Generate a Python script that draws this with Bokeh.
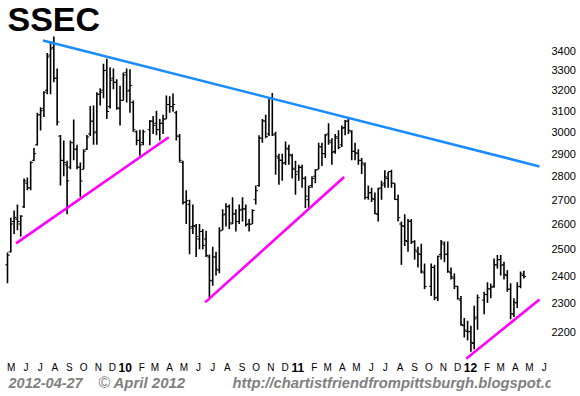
import math
import numpy as np
import pandas as pd
from bokeh.plotting import figure
from bokeh.models import Range1d, FixedTicker, PrintfTickFormatter, ColumnDataSource
from bokeh.core.properties import value
from bokeh.embed import file_html
from bokeh.resources import INLINE

# ---------------- data ----------------
first_week = "2009-04-27"          # Monday of the first weekly bar
n_weeks = 157                        # weekly bars up to 2012-04-23 (None = market closed)

opens = [2440, 2490, 2610, 2620, 2600, 2670, 2770, 2750, 2870, 2940,
         3080, 3110, 3200, 3380, 3420, 3260, 2980, 2870, 2850, 2840,
         2950, 2920, 2840, 2830, 2920, 2990, 3050, 3000, 3180, 3200,
         3300, 3120, 3260, 3240, 3110, 3150, 3290, 3200, 3140, 3000,
         2960, 2950, None, 3010, 3050, 3040, 3010, 3040, 3060, 3130,
         3120, 3090, 2980, 2860, 2690, 2680, 2590, 2590, 2540, 2570,
         2540, 2470, 2380, 2470, 2420, 2575, 2640, 2670, 2600, 2640,
         2610, 2660, 2660, 2600, 2600, 2700, 2760, 2970, 3050, 2990,
         3160, 2990, 2880, 2870, 2860, 2920, 2890, 2830, 2820, 2840,
         2790, 2700, 2760, 2800, 2830, 2930, 2900, 2990, 2950, 2910,
         2970, 2940, 3020, 3050, 3000, 2910, 2900, 2870, 2850, 2710,
         2730, 2700, 2640, 2750, 2770, 2790, 2820, 2770, 2700, 2600,
         2590, 2530, 2610, 2530, 2490, 2480, 2410, None, 2360, 2430,
         2320, 2480, 2520, 2480, 2410, 2390, 2360, 2310, 2220, 2200,
         2200, 2160, 2250, None, 2310, 2330, 2350, 2360, 2440, 2460,
         2440, 2400, 2350, 2260, 2300, 2360, 2400]
highs = [2487, 2625, 2655, 2680, 2635, 2790, 2795, 2866, 2925, 3090,
         3117, 3195, 3390, 3454, 3478, 3310, 2985, 2960, 2868, 2960,
         3058, 2940, 2860, 2920, 2985, 3123, 3125, 3190, 3210, 3335,
         3361, 3316, 3310, 3255, 3223, 3290, 3310, 3306, 3150, 3006,
         3010, 3010, None, 3055, 3075, 3100, 3060, 3080, 3174, 3170,
         3184, 3100, 2990, 2868, 2740, 2700, 2680, 2600, 2600, 2580,
         2573, 2480, 2510, 2490, 2587, 2660, 2685, 2680, 2710, 2660,
         2680, 2710, 2680, 2620, 2660, 2760, 2984, 3060, 3080, 3160,
         3186, 3000, 2900, 2900, 2955, 2940, 2900, 2868, 2850, 2850,
         2800, 2760, 2800, 2830, 2950, 2950, 2990, 3040, 2970, 2990,
         3007, 3030, 3055, 3067, 3007, 2950, 2920, 2880, 2860, 2760,
         2750, 2730, 2750, 2780, 2826, 2820, 2828, 2770, 2721, 2610,
         2639, 2620, 2620, 2535, 2510, 2521, 2445, None, 2445, 2440,
         2475, 2536, 2530, 2530, 2430, 2408, 2362, 2325, 2247, 2237,
         2220, 2290, 2330, None, 2340, 2375, 2370, 2464, 2478, 2478,
         2452, 2420, 2371, 2317, 2375, 2415, 2418]
lows = [2371, 2487, 2560, 2575, 2550, 2665, 2740, 2740, 2866, 2937,
        3006, 3070, 3180, 3180, 3240, 3030, 2760, 2800, 2639, 2830,
        2870, 2830, 2712, 2830, 2916, 2980, 2940, 2940, 3125, 3160,
        3060, 3110, 3205, 3104, 3030, 3149, 3140, 3090, 3000, 2938,
        2890, 2938, None, 2938, 2990, 2984, 2960, 2990, 3060, 3090,
        3095, 2960, 2860, 2680, 2600, 2481, 2560, 2470, 2500, 2500,
        2470, 2319, 2362, 2400, 2408, 2575, 2590, 2580, 2600, 2570,
        2600, 2610, 2590, 2570, 2600, 2680, 2755, 2950, 2970, 2980,
        2980, 2806, 2763, 2780, 2849, 2850, 2790, 2721, 2780, 2750,
        2665, 2661, 2750, 2770, 2830, 2845, 2880, 2940, 2850, 2900,
        2920, 2930, 2984, 2990, 2870, 2870, 2850, 2810, 2701, 2700,
        2690, 2640, 2610, 2700, 2750, 2750, 2750, 2700, 2610, 2440,
        2513, 2490, 2520, 2460, 2430, 2408, 2350, None, 2325, 2310,
        2307, 2460, 2450, 2410, 2385, 2350, 2312, 2220, 2180, 2170,
        2132, 2140, 2206, None, 2260, 2300, 2317, 2355, 2426, 2400,
        2385, 2340, 2242, 2250, 2282, 2353, 2389]
closes = [2477, 2600, 2627, 2610, 2632, 2780, 2750, 2860, 2900, 3080,
          3100, 3190, 3370, 3412, 3260, 3046, 2870, 2860, 2780, 2950,
          2920, 2840, 2779, 2911, 2976, 3050, 2995, 3180, 3190, 3300,
          3096, 3250, 3240, 3114, 3150, 3277, 3196, 3224, 3010, 2960,
          2940, 3000, None, 3050, 3030, 3010, 3040, 3060, 3130, 3120,
          3130, 2980, 2870, 2688, 2696, 2583, 2593, 2550, 2570, 2515,
          2476, 2382, 2470, 2424, 2572, 2637, 2672, 2605, 2642, 2610,
          2656, 2663, 2598, 2598, 2655, 2738, 2971, 3052, 2978, 3159,
          2985, 2888, 2871, 2857, 2925, 2895, 2835, 2808, 2838, 2791,
          2715, 2752, 2790, 2827, 2932, 2900, 2985, 2958, 2906, 2977,
          2928, 3017, 3050, 3007, 2911, 2904, 2870, 2858, 2709, 2728,
          2705, 2642, 2746, 2762, 2797, 2820, 2770, 2701, 2626, 2593,
          2534, 2612, 2528, 2497, 2482, 2416, 2359, None, 2431, 2318,
          2473, 2528, 2481, 2416, 2395, 2360, 2315, 2224, 2205, 2199,
          2163, 2244, 2319, None, 2330, 2351, 2357, 2440, 2460, 2439,
          2404, 2349, 2262, 2302, 2359, 2406, 2396]

# trend lines (date, price)
resist_dates = ["2009-07-11", "2012-05-26"]
resist_prices = [3457, 2843]
support_dates = [["2009-05-15", "2010-04-03"],
                 ["2010-06-19", "2011-04-09"],
                 ["2011-12-23", "2012-05-26"]]
support_prices = [[2523, 2975], [2302, 2797], [2109, 2312]]

# axis labels
ytick_values = [2200, 2300, 2400, 2500, 2600, 2700, 2800, 2900, 3000, 3100, 3200, 3300, 3400]
month_letters = ["J", "F", "M", "A", "M", "J", "J", "A", "S", "O", "N", "D"]
first_month, last_month = "2009-05-01", "2012-06-01"

title_text = "SSEC"
footer_date = "2012-04-27"
footer_copy = "\u00a9"
footer_month = "April 2012"
footer_url = "http://chartistfriendfrompittsburgh.blogspot.com"

# ---------------- layout helpers ----------------
FRAME_W, FRAME_H = 550, 396
PX_PER_DAY = 3.31 / 7.0
PX_PER_LN = 644.0
P_TOP = 3400 * math.exp(50.7 / PX_PER_LN)
X_START = -7.0 / PX_PER_DAY
start = pd.Timestamp(first_week)


def day_of(d):
    return (pd.Timestamp(d) - start).days


def x_at(px):
    return X_START + px / PX_PER_DAY


def y_at(px):
    return P_TOP * math.exp(-px / PX_PER_LN)


FONT = value("Liberation Sans")
GREY = "#808080"

p = figure(frame_width=FRAME_W, frame_height=FRAME_H, output_backend="svg",
           toolbar_location=None, y_axis_type="log", x_axis_location=None,
           y_axis_location="right",
           x_range=Range1d(X_START, x_at(FRAME_W)),
           y_range=Range1d(y_at(FRAME_H), P_TOP),
           min_border_left=0, min_border_right=0, min_border_top=0, min_border_bottom=0)
p.outline_line_color = None
p.grid.visible = False
p.background_fill_color = "white"
p.border_fill_color = "white"

ax = p.yaxis[0]
ax.ticker = FixedTicker(ticks=ytick_values, minor_ticks=[])
ax.formatter = PrintfTickFormatter(format="%d")
ax.axis_line_color = None
ax.major_tick_line_color = None
ax.minor_tick_line_color = None
ax.major_tick_out = 0
ax.major_tick_in = 0
ax.major_label_standoff = 1
ax.major_label_text_font = "Liberation Sans"
ax.major_label_text_font_size = "11px"
ax.major_label_text_color = "black"

# ---------------- bars ----------------
dates = pd.date_range(start, periods=n_weeks, freq="7D")
xs = np.array([day_of(d) for d in dates], dtype=float)
TICK = 2.2 / PX_PER_DAY
src = ColumnDataSource(dict(
    x=xs, xl=xs - TICK, xr=xs + TICK,
    o=np.array(opens, dtype=float), h=np.array(highs, dtype=float),
    l=np.array(lows, dtype=float), c=np.array(closes, dtype=float)))
p.segment(x0="x", y0="l", x1="x", y1="h", source=src, line_color="black", line_width=1.6)
p.segment(x0="xl", y0="o", x1="x", y1="o", source=src, line_color="black", line_width=1)
p.segment(x0="x", y0="c", x1="xr", y1="c", source=src, line_color="black", line_width=1)

# ---------------- trend lines ----------------
p.line([day_of(d) for d in resist_dates], resist_prices, line_color="#1a8cff", line_width=2.6)
for ds, ps in zip(support_dates, support_prices):
    p.line([day_of(d) for d in ds], ps, line_color="#ff00ff", line_width=2.6)

# ---------------- month / year labels ----------------
months = pd.date_range(first_month, last_month, freq="MS")
mx, mt, yx, yt = [], [], [], []
for m in months:
    if m.month == 1:
        yx.append(day_of(m))
        yt.append("%02d" % (m.year % 100))
    else:
        mx.append(day_of(m) + 4)
        mt.append(month_letters[m.month - 1])
ROW = y_at(367)
p.text(x=mx, y=[ROW] * len(mx), text=mt, text_font=FONT, text_font_size="10px",
       text_align="center", text_baseline="middle", text_color="black")
p.text(x=yx, y=[ROW] * len(yx), text=yt, text_font=FONT, text_font_size="12px",
       text_font_style="bold", text_align="center", text_baseline="middle", text_color="black")

# ---------------- title ----------------
p.text(x=[x_at(7)], y=[y_at(18)], text=[title_text], text_font=FONT, text_font_size="34px",
       text_font_style="bold", text_align="left", text_baseline="middle", text_color="black")

# ---------------- footer ----------------
FOOT = y_at(382)
p.text(x=[x_at(8)], y=[FOOT], text=[footer_date], text_font=FONT, text_font_size="14.5px",
       text_font_style="bold italic", text_align="left", text_baseline="middle", text_color=GREY)
p.text(x=[x_at(113)], y=[FOOT], text=[footer_month], text_font=FONT, text_font_size="15px",
       text_font_style="bold italic", text_align="left", text_baseline="middle", text_color=GREY)
p.text(x=[x_at(232)], y=[FOOT], text=[footer_url], text_font=FONT, text_font_size="14.8px",
       text_font_style="bold italic", text_align="left", text_baseline="middle", text_color=GREY)
p.text(x=[x_at(104)], y=[FOOT], text=[footer_copy], text_font=FONT, text_font_size="16px",
       text_align="center", text_baseline="middle", text_color=GREY)

open("out.html", "w").write(file_html(p, INLINE))
